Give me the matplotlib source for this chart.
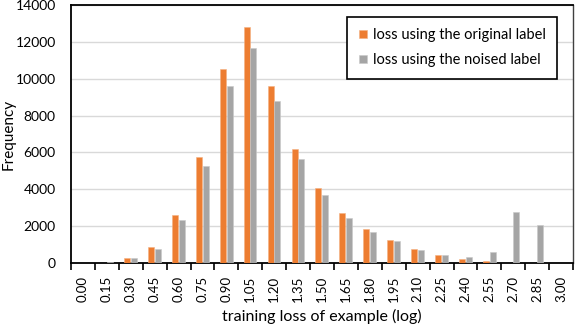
import matplotlib
matplotlib.use("Agg")
import matplotlib.pyplot as plt
import numpy as np

plt.rcParams['font.family'] = ['Lato', 'DejaVu Sans']

bins = ["0.00", "0.15", "0.30", "0.45", "0.60", "0.75", "0.90", "1.05", "1.20", "1.35",
        "1.50", "1.65", "1.80", "1.95", "2.10", "2.25", "2.40", "2.55", "2.70", "2.85", "3.00"]
original = [0, 30, 290, 870, 2610, 5760, 10510, 12800, 9590, 6210,
            4085, 2720, 1850, 1270, 760, 450, 235, 125, 0, 0, 0]
noised = [0, 40, 270, 760, 2320, 5250, 9590, 11690, 8770, 5650,
          3700, 2430, 1690, 1200, 710, 420, 330, 600, 2780, 2050, 30]

x = np.arange(len(bins))
fig = plt.figure(figsize=(5.76, 3.28), dpi=100)
ax = fig.add_axes([0.1233, 0.198, 0.8717, 0.787])

w = 0.25
ax.bar(x - 0.15, original, width=w, color="#ED7D31", edgecolor="#F4B183", linewidth=0.4,
       label="loss using the original label", zorder=3)
ax.bar(x + 0.13, noised, width=w, color="#A5A5A5", edgecolor="#C9C9C9", linewidth=0.4,
       label="loss using the noised label", zorder=3)

ax.set_xlim(-0.5, len(bins) - 0.5)
ax.set_ylim(0, 14000)
ax.set_yticks(range(0, 14001, 2000))
ax.yaxis.grid(True, color="#D9D9D9", linewidth=1.0, zorder=0)
ax.tick_params(axis='y', length=0, labelsize=10, pad=11)

ax.set_xticks(x)
ax.set_xticklabels(bins, rotation=90, fontsize=9.5)
ax.set_xticks(np.arange(-0.5, len(bins)), minor=True)
ax.tick_params(axis='x', which='major', length=0, pad=9)
ax.tick_params(axis='x', which='minor', length=5, width=1.2, direction='out')

for side in ['left', 'bottom', 'top']:
    ax.spines[side].set_color('black')
    ax.spines[side].set_linewidth(1.3)
ax.spines['right'].set_color('#404040')
ax.spines['right'].set_linewidth(1.0)

ax.set_xlabel("training loss of example (log)", fontsize=11.5, labelpad=5)
ax.set_ylabel("Frequency", fontsize=11, va='center')
ax.yaxis.set_label_coords(-0.124, 0.5)

leg = ax.legend(loc='upper right', bbox_to_anchor=(0.968, 0.955), fontsize=10.5,
                fancybox=False, edgecolor='black', framealpha=1,
                handlelength=0.55, handleheight=0.55, handletextpad=0.4,
                labelspacing=0.75, borderpad=0.8, borderaxespad=0)
leg.get_frame().set_linewidth(1.2)

fig.savefig("out.png", dpi=100)
